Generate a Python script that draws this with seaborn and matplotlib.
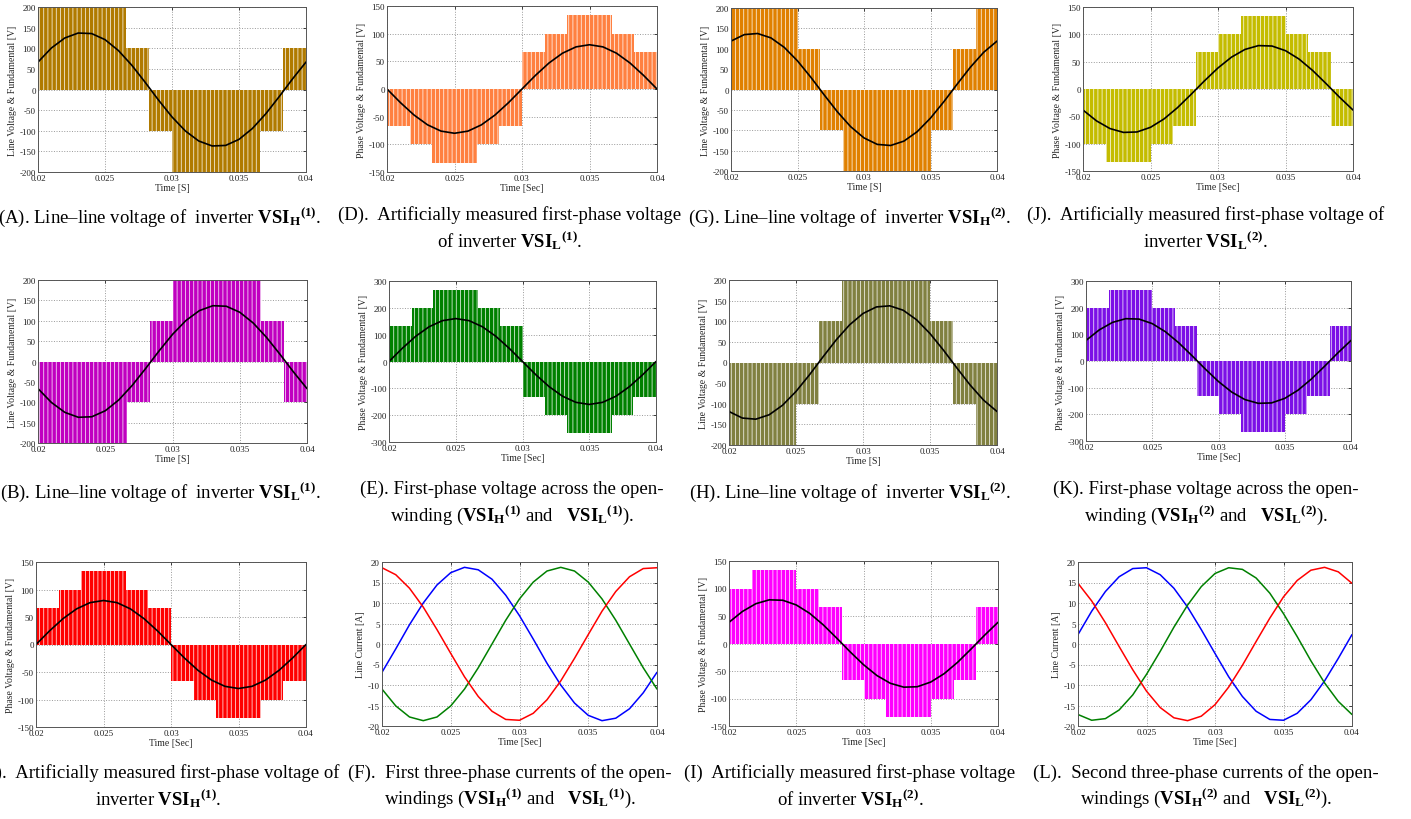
import matplotlib
matplotlib.use("Agg")
import matplotlib.pyplot as plt
import seaborn as sns

# sample times of the fundamentals / currents [s]
t_samples = [round(0.020 + 0.001 * k, 3) for k in range(21)]

# switching-envelope breakpoints [s]
edges_line_1 = [0.0200, 0.0266, 0.0283, 0.0300, 0.0366, 0.0383, 0.0400]
edges_line_2 = [0.0200, 0.0250, 0.0267, 0.0284, 0.0350, 0.0367, 0.0384, 0.0400]
edges_phase_1 = [0.0200, 0.0217, 0.0233, 0.0267, 0.0283, 0.0300, 0.0317, 0.0333, 0.0367, 0.0383, 0.0400]
edges_phase_2 = [0.0200, 0.0217, 0.0250, 0.0267, 0.0284, 0.0300, 0.0317, 0.0350, 0.0367, 0.0384, 0.0400]

# envelope levels (band between 0 and level) [V]
lev_A = [200, 100, -100, -200, -100, 100]
lev_B = [-200, -100, 100, 200, 100, -100]
lev_G = [200, 100, -100, -200, -100, 100, 200]
lev_H = [-200, -100, 100, 200, 100, -100, -200]
lev_C = [67, 100, 133, 100, 67, -67, -100, -133, -100, -67]
lev_D = [-67, -100, -133, -100, -67, 67, 100, 133, 100, 67]
lev_E = [133, 200, 267, 200, 133, -133, -200, -267, -200, -133]
lev_I = [100, 133, 100, 67, -67, -100, -133, -100, -67, 67]
lev_J = [-100, -133, -100, -67, 67, 100, 133, 100, 67, -67]
lev_K = [200, 267, 200, 133, -133, -200, -267, -200, -133, 133]

# fundamentals [V]
fund_A = [66.5, 100.6, 124.9, 136.9, 135.6, 120.9, 94.5, 58.8, 17.3, -25.9, -66.5,
          -100.6, -124.9, -136.9, -135.6, -120.9, -94.5, -58.8, -17.3, 25.9, 66.5]
fund_B = [-66.5, -100.6, -124.9, -136.9, -135.6, -120.9, -94.5, -58.8, -17.3, 25.9, 66.5,
          100.6, 124.9, 136.9, 135.6, 120.9, 94.5, 58.8, 17.3, -25.9, -66.5]
fund_G = [118.8, 134.7, 137.4, 126.7, 103.5, 70.2, 30.1, -13.0, -54.8, -91.3, -118.8,
          -134.7, -137.4, -126.7, -103.5, -70.2, -30.1, 13.0, 54.8, 91.3, 118.8]
fund_H = [-118.8, -134.7, -137.4, -126.7, -103.5, -70.2, -30.1, 13.0, 54.8, 91.3, 118.8,
          134.7, 137.4, 126.7, 103.5, 70.2, 30.1, -13.0, -54.8, -91.3, -118.8]
fund_C = [0, 24.7, 47.0, 64.7, 76.1, 80.0, 76.1, 64.7, 47.0, 24.7, 0,
          -24.7, -47.0, -64.7, -76.1, -80.0, -76.1, -64.7, -47.0, -24.7, 0]
fund_D = [0, -24.7, -47.0, -64.7, -76.1, -80.0, -76.1, -64.7, -47.0, -24.7, 0,
          24.7, 47.0, 64.7, 76.1, 80.0, 76.1, 64.7, 47.0, 24.7, 0]
fund_E = [0, 49.4, 94.0, 129.4, 152.2, 160.0, 152.2, 129.4, 94.0, 49.4, 0,
          -49.4, -94.0, -129.4, -152.2, -160.0, -152.2, -129.4, -94.0, -49.4, 0]
fund_I = [38.5, 58.3, 72.4, 79.4, 78.6, 70.1, 54.8, 34.1, 10.0, -15.0, -38.5,
          -58.3, -72.4, -79.4, -78.6, -70.1, -54.8, -34.1, -10.0, 15.0, 38.5]
fund_J = [-38.5, -58.3, -72.4, -79.4, -78.6, -70.1, -54.8, -34.1, -10.0, 15.0, 38.5,
          58.3, 72.4, 79.4, 78.6, 70.1, 54.8, 34.1, 10.0, -15.0, -38.5]
fund_K = [77.1, 116.6, 144.8, 158.7, 157.2, 140.2, 109.5, 68.1, 20.0, -30.0, -77.1,
          -116.6, -144.8, -158.7, -157.2, -140.2, -109.5, -68.1, -20.0, 30.0, 77.1]

# line currents [A]
cur1_blue = [-6.9, -1.2, 4.7, 10.0, 14.4, 17.4, 18.7, 18.1, 15.8, 11.9, 6.9,
             1.2, -4.7, -10.0, -14.4, -17.4, -18.7, -18.1, -15.8, -11.9, -6.9]
cur1_green = [-11.0, -15.1, -17.8, -18.7, -17.8, -15.1, -11.0, -5.8, 0, 5.8, 11.0,
              15.1, 17.8, 18.7, 17.8, 15.1, 11.0, 5.8, 0, -5.8, -11.0]
cur1_red = [18.6, 16.9, 13.6, 9.0, 3.5, -2.3, -8.0, -12.8, -16.4, -18.4, -18.6,
            -16.9, -13.6, -9.0, -3.5, 2.3, 8.0, 12.8, 16.4, 18.4, 18.6]
cur2_blue = [2.3, 8.0, 12.8, 16.4, 18.4, 18.6, 16.9, 13.6, 9.0, 3.5, -2.3,
             -8.0, -12.8, -16.4, -18.4, -18.6, -16.9, -13.6, -9.0, -3.5, 2.3]
cur2_red = [14.8, 10.5, 5.2, -0.6, -6.3, -11.5, -15.5, -18.0, -18.7, -17.6, -14.8,
            -10.5, -5.2, 0.6, 6.3, 11.5, 15.5, 18.0, 18.7, 17.6, 14.8]
cur2_green = [-17.2, -18.6, -18.2, -16.1, -12.4, -7.4, -1.8, 4.1, 9.5, 14.0, 17.2,
              18.6, 18.2, 16.1, 12.4, 7.4, 1.8, -4.1, -9.5, -14.0, -17.2]

x_ticks = [0.02, 0.025, 0.03, 0.035, 0.04]
x_ticklabels = ["0.02", "0.025", "0.03", "0.035", "0.04"]

sns.set_theme(style="white")
plt.rcParams['font.family'] = ['Liberation Serif', 'DejaVu Serif']
plt.rcParams['mathtext.fontset'] = 'custom'
plt.rcParams['mathtext.rm'] = 'Liberation Serif'
plt.rcParams['mathtext.bf'] = 'Liberation Serif:bold'
plt.rcParams['hatch.color'] = 'white'
plt.rcParams['hatch.linewidth'] = 0.5

W, H = 1411, 820
fig = plt.figure(figsize=(W / 100, H / 100), dpi=100)


def make_axes(box):
    l, t, r, b = box
    return fig.add_axes([l / W, 1 - b / H, (r - l) / W, (b - t) / H])


def style_axes(ax, ylim, ystep, ylabel, xlabel):
    ax.set_xlim(0.02, 0.04)
    ax.set_ylim(*ylim)
    ax.set_xticks(x_ticks)
    ax.set_xticklabels(x_ticklabels)
    yt = list(range(ylim[0], ylim[1] + 1, ystep))
    ax.set_yticks(yt)
    ax.set_yticklabels([str(v) for v in yt])
    ax.tick_params(direction='in', length=2.5, width=0.6, labelsize=6.5, pad=1.5,
                   colors='#222222', top=True, right=True)
    ax.set_axisbelow(True)
    ax.grid(True, linestyle=':', color='#999999', linewidth=0.7)
    for s in ax.spines.values():
        s.set_color('#555555')
        s.set_linewidth(0.7)
    ax.set_ylabel(ylabel, fontsize=7, labelpad=2)
    ax.set_xlabel(xlabel, fontsize=7, labelpad=1)


def pwm_panel(box, edges, levels, fund, color, ylim, ystep, ylabel, xlabel):
    ax = make_axes(box)
    ax.fill_between(edges, 0, levels + [levels[-1]], step='post', facecolor=color,
                    edgecolor='white', hatch='||||', linewidth=0)
    sns.lineplot(x=t_samples, y=fund, color='black', linewidth=1.2, ax=ax)
    style_axes(ax, ylim, ystep, ylabel, xlabel)
    return ax


def current_panel(box, blue, green, red):
    ax = make_axes(box)
    sns.lineplot(x=t_samples, y=blue, color='#0000FF', linewidth=1.1, ax=ax)
    sns.lineplot(x=t_samples, y=green, color='#008000', linewidth=1.1, ax=ax)
    sns.lineplot(x=t_samples, y=red, color='#FF0000', linewidth=1.1, ax=ax)
    style_axes(ax, (-20, 20), 5, 'Line Current [A]', 'Time [Sec]')
    return ax


LV = 'Line Voltage & Fundamental [V]'
PV = 'Phase Voltage & Fundamental [V]'

# row 1
pwm_panel((38, 8, 306, 173), edges_line_1, lev_A, fund_A, '#B07A00', (-200, 200), 50, LV, 'Time [S]')
pwm_panel((387, 7, 657, 173), edges_phase_1, lev_D, fund_D, '#FF8040', (-150, 150), 50, PV, 'Time [Sec]')
pwm_panel((731, 9, 997, 172), edges_line_2, lev_G, fund_G, '#E08000', (-200, 200), 50, LV, 'Time [S]')
pwm_panel((1083, 8, 1353, 172), edges_phase_2, lev_J, fund_J, '#C4BC00', (-150, 150), 50, PV, 'Time [Sec]')
# row 2
pwm_panel((38, 281, 307, 444), edges_line_1, lev_B, fund_B, '#C000C0', (-200, 200), 50, LV, 'Time [S]')
pwm_panel((389, 282, 656, 443), edges_phase_1, lev_E, fund_E, '#008000', (-300, 300), 100, PV, 'Time [Sec]')
pwm_panel((729, 281, 997, 446), edges_line_2, lev_H, fund_H, '#808040', (-200, 200), 50, LV, 'Time [S]')
pwm_panel((1086, 282, 1351, 442), edges_phase_2, lev_K, fund_K, '#7B10E6', (-300, 300), 100, PV, 'Time [Sec]')
# row 3
pwm_panel((36, 563, 306, 728), edges_phase_1, lev_C, fund_C, '#FF0000', (-150, 150), 50, PV, 'Time [Sec]')
current_panel((382, 563, 657, 727), cur1_blue, cur1_green, cur1_red)
pwm_panel((729, 562, 998, 727), edges_phase_2, lev_I, fund_I, '#FF00FF', (-150, 150), 50, PV, 'Time [Sec]')
current_panel((1078, 563, 1352, 727), cur2_blue, cur2_green, cur2_red)


def vsi(sub, n):
    return r"$\mathbf{VSI_" + sub + r"{}^{(" + n + r")}}$"


captions = [
    (160, 206, "(A). Line–line voltage of  inverter " + vsi('H', '1') + "."),
    (510, 206, "(D).  Artificially measured first-phase voltage\n"
               "of inverter " + vsi('L', '1') + "."),
    (850, 206, "(G). Line–line voltage of  inverter " + vsi('H', '2') + "."),
    (1206, 206, "(J).  Artificially measured first-phase voltage of\n"
                "inverter " + vsi('L', '2') + "."),
    (160, 481, "(B). Line–line voltage of  inverter " + vsi('L', '1') + "."),
    (512, 481, "(E). First-phase voltage across the open-\n"
               "winding (" + vsi('H', '1') + " and   " + vsi('L', '1') + ")."),
    (850, 481, "(H). Line–line voltage of  inverter " + vsi('L', '2') + "."),
    (1206, 481, "(K). First-phase voltage across the open-\n"
                "winding (" + vsi('H', '2') + " and   " + vsi('L', '2') + ")."),
    (158, 764, "(C).  Artificially measured first-phase voltage of\n"
               "inverter " + vsi('H', '1') + "."),
    (510, 764, "(F).  First three-phase currents of the open-\n"
               "windings (" + vsi('H', '1') + " and   " + vsi('L', '1') + ")."),
    (850, 764, "(I)  Artificially measured first-phase voltage\n"
               "of inverter " + vsi('H', '2') + "."),
    (1206, 764, "(L).  Second three-phase currents of the open-\n"
                "windings (" + vsi('H', '2') + " and   " + vsi('L', '2') + ")."),
]
for cx, cy, txt in captions:
    fig.text(cx / W, 1 - cy / H, txt, ha='center', va='top', fontsize=13.5,
             linespacing=1.3, multialignment='center', color='black')

fig.savefig('out.png', dpi=100)
